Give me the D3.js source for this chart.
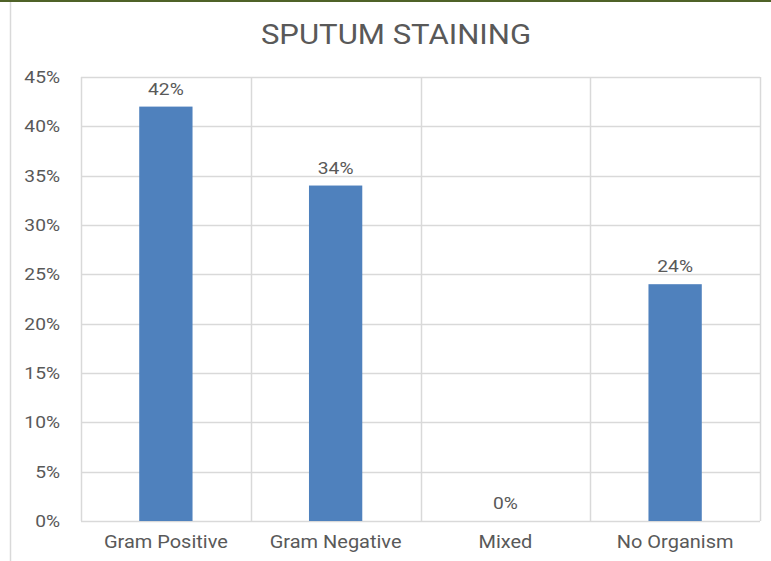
<!DOCTYPE html>
<html>
<head>
<meta charset="utf-8">
<script src="https://cdn.jsdelivr.net/npm/d3@7/dist/d3.min.js"></script>
<style>
  html, body { margin: 0; padding: 0; background: #ffffff; }
  svg { display: block; }
</style>
</head>
<body>
<svg id="chart" width="771" height="561"></svg>
<script>
// Sputum staining results, share of samples per category
const categories = ["Gram Positive", "Gram Negative", "Mixed", "No Organism"];
const percentValues = [42, 34, 0, 24];
const yTicks = [0, 5, 10, 15, 20, 25, 30, 35, 40, 45];
const chartTitle = "SPUTUM STAINING";

const W = 771, H = 561;
const margin = { left: 81, right: 11, top: 77, bottom: 40 };
const plotW = W - margin.left - margin.right;
const plotH = H - margin.top - margin.bottom;

const svg = d3.select("#chart");
const textColor = "#595959";
const gridColor = "#d9d9d9";
const font = "Roboto, 'Liberation Sans', Arial, sans-serif";
const stretch = 1.11; // slightly widened lettering

// place a text at (x, y) widened horizontally about its anchor
function placeText(sel, x, y) {
  sel.attr("x", 0).attr("y", 0)
    .attr("transform", `translate(${x},${y}) scale(${stretch},1)`);
}

// frame edges
svg.append("rect").attr("x", 0).attr("y", 0).attr("width", W).attr("height", 2).attr("fill", "#4f6228");
svg.append("line").attr("x1", 10.5).attr("x2", 10.5).attr("y1", 2).attr("y2", H)
  .attr("stroke", gridColor).attr("stroke-width", 1.5);

svg.append("text")
  .attr("text-anchor", "middle")
  .attr("font-family", font)
  .attr("font-size", 28)
  .attr("fill", textColor)
  .text(chartTitle)
  .call(placeText, 396, 44);

const g = svg.append("g").attr("transform", `translate(${margin.left},${margin.top})`);

const x = d3.scaleBand().domain(categories).range([0, plotW]).padding(0);
const y = d3.scaleLinear().domain([0, 45]).range([plotH, 0]);
const barW = x.bandwidth() * 0.314;

// horizontal gridlines
g.append("g")
  .selectAll("line")
  .data(yTicks)
  .join("line")
  .attr("x1", 0).attr("x2", plotW)
  .attr("y1", d => Math.round(y(d)) + 0.5).attr("y2", d => Math.round(y(d)) + 0.5)
  .attr("stroke", gridColor).attr("stroke-width", 1.5);

// vertical category separators
const sep = categories.map(c => x(c)).concat([plotW]);
g.append("g")
  .selectAll("line")
  .data(sep)
  .join("line")
  .attr("x1", d => Math.round(d) + 0.5).attr("x2", d => Math.round(d) + 0.5)
  .attr("y1", 0).attr("y2", plotH)
  .attr("stroke", gridColor).attr("stroke-width", 1.5);

// y axis labels
const yAxis = d3.axisLeft(y).tickValues(yTicks).tickFormat(d => d + "%").tickSize(0).tickPadding(21);
const ya = g.append("g").call(yAxis);
ya.select(".domain").remove();
ya.selectAll("text")
  .attr("font-family", font).attr("font-size", 17.3).attr("fill", textColor)
  .attr("dy", "0.32em")
  .each(function () { d3.select(this).call(placeText, -21, 0); });

// x axis labels
const xAxis = d3.axisBottom(x).tickSize(0).tickPadding(14);
const xa = g.append("g").attr("transform", `translate(0,${plotH})`).call(xAxis);
xa.select(".domain").remove();
xa.selectAll("text")
  .attr("font-family", font).attr("font-size", 18).attr("fill", textColor)
  .attr("dy", "0.71em")
  .each(function () { d3.select(this).call(placeText, 0, 14); });

// bars
const data = categories.map((c, i) => ({ c, v: percentValues[i] }));
g.append("g")
  .selectAll("rect")
  .data(data)
  .join("rect")
  .attr("x", d => x(d.c) + (x.bandwidth() - barW) / 2)
  .attr("y", d => y(d.v))
  .attr("width", barW)
  .attr("height", d => y(0) - y(d.v))
  .attr("fill", "#4f81bd");

// value labels
g.append("g")
  .selectAll("text")
  .data(data)
  .join("text")
  .attr("text-anchor", "middle")
  .attr("font-family", font)
  .attr("font-size", 17.3)
  .attr("fill", textColor)
  .text(d => d.v + "%")
  .each(function (d) {
    d3.select(this).call(placeText, x(d.c) + x.bandwidth() / 2, y(d.v) - 12);
  });
</script>
</body>
</html>
